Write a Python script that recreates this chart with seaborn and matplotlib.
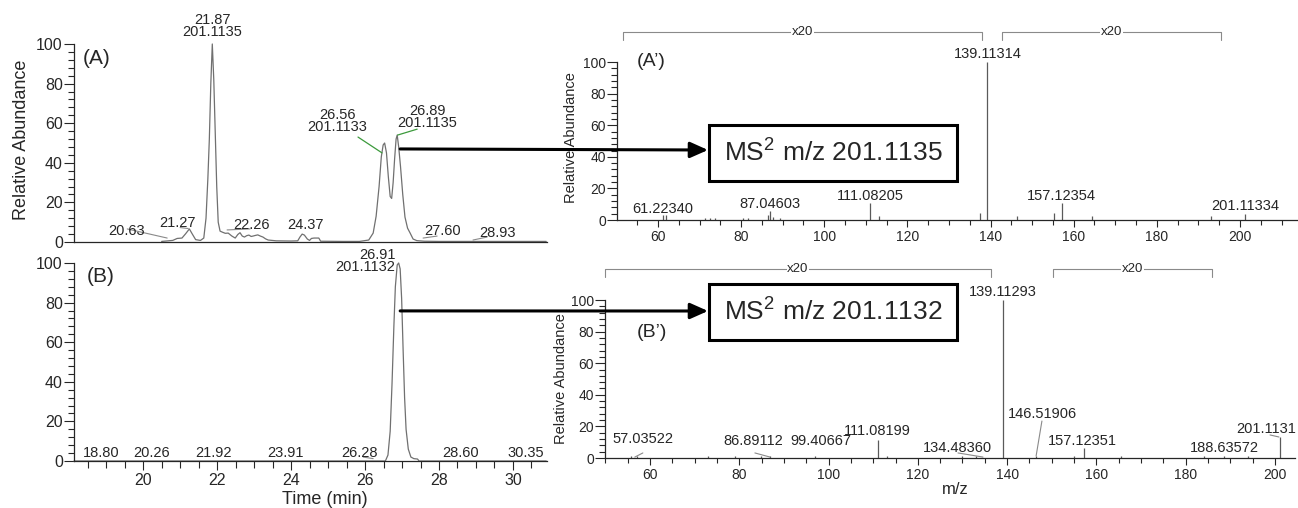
import matplotlib
matplotlib.use("Agg")
import matplotlib.pyplot as plt
import seaborn as sns
import pandas as pd
from matplotlib.patches import Rectangle, ConnectionPatch
from matplotlib.ticker import MultipleLocator

# (A) extracted ion chromatogram, sample
time_a = [20.50, 20.80, 20.92, 21.05, 21.15, 21.25, 21.33, 21.42, 21.55, 21.64,
          21.70, 21.75, 21.79, 21.83, 21.87, 21.91, 21.95, 21.99, 22.03, 22.08,
          22.14, 22.22, 22.30, 22.40, 22.49, 22.56, 22.62, 22.68, 22.74, 22.80,
          22.86, 22.92, 22.97, 23.03, 23.10, 23.17, 23.24, 23.31, 23.38, 23.60,
          24.00, 24.18, 24.24, 24.30, 24.36, 24.44, 24.50, 24.55, 24.62, 24.75,
          24.80, 25.40, 25.85, 26.10, 26.22, 26.30, 26.38, 26.44, 26.49, 26.53,
          26.58, 26.63, 26.68, 26.72, 26.76, 26.80, 26.84, 26.87, 26.91, 26.96,
          27.02, 27.08, 27.15, 27.22, 27.30, 27.40, 27.60, 28.00, 28.80, 30.90]
abund_a = [0.3, 0.8, 1.8, 2.0, 4.2, 6.6, 4.0, 1.2, 0.8, 2.0,
           12, 32, 52, 80, 100, 82, 55, 28, 10, 5.5,
           5.0, 4.4, 4.5, 3.0, 2.0, 3.8, 4.7, 3.0, 2.5, 3.2,
           3.5, 2.8, 3.0, 3.3, 3.6, 3.0, 2.5, 1.6, 1.0, 0.6,
           0.5, 0.6, 2.5, 4.0, 3.5, 1.5, 0.8, 1.8, 2.0, 2.0,
           0.4, 0.3, 0.3, 1.0, 4.5, 13, 28, 43, 49, 50,
           45, 33, 23, 22, 30, 42, 52, 54, 48, 38,
           24, 12.6, 7, 4.5, 1.5, 0.7, 0.4, 0.3, 0.3, 0.3]

# (B) extracted ion chromatogram, standard
time_b = [18.13, 26.55, 26.62, 26.68, 26.73, 26.78, 26.82, 26.87, 26.91, 26.95,
          26.99, 27.03, 27.07, 27.11, 27.17, 27.24, 27.32, 27.42, 27.46, 30.90]
abund_b = [0, 0, 3, 15, 39, 68, 88, 99, 100, 97,
           82, 56, 32, 16, 6, 2, 1.2, 1.0, 0, 0]

# (A') MS2 spectrum of m/z 201.1135
mz_a = [61.22, 62.0, 71.3, 72.5, 73.7, 80.4, 81.7, 86.5, 87.05, 87.7,
        89.4, 111.08, 113.2, 137.4, 139.11, 146.4, 155.2, 157.12, 164.4, 193.0,
        201.11]
int_a = [3.0, 3.0, 1.5, 1.5, 1.5, 1.5, 1.5, 3.0, 5.5, 2.0,
         1.5, 10.8, 2.5, 4.4, 100, 2.5, 4.4, 10.8, 2.5, 2.5,
         3.8]

# (B') MS2 spectrum of m/z 201.1132
mz_b = [55.8, 57.04, 73.0, 79.0, 84.8, 86.9, 97.0, 111.08, 113.0, 130.0,
        133.0, 139.11, 146.52, 155.0, 157.12, 165.5, 184.0, 188.64, 194.0, 201.11]
int_b = [1.0, 1.5, 1.0, 1.0, 1.0, 1.0, 1.0, 11.4, 1.0, 1.0,
         1.0, 100, 1.0, 1.5, 6.3, 1.0, 1.5, 1.5, 1.0, 13.3]

# x20 magnification ranges
zoom_a = [(51.6, 137.9), (142.7, 195.4)]
zoom_b = [(49.9, 136.4), (150.3, 185.9)]

sns.set_style("ticks")
plt.rcParams['font.family'] = ['Liberation Sans', 'DejaVu Sans']
plt.rcParams['mathtext.fontset'] = 'custom'
plt.rcParams['mathtext.rm'] = 'Liberation Sans'
plt.rcParams['mathtext.it'] = 'Liberation Sans:italic'

trace_col = '#707070'
grey = '#8a8a8a'

fig = plt.figure(figsize=(12.98, 5.08), dpi=100)
ax_a = fig.add_axes([0.0570, 0.5236, 0.3644, 0.3898])
ax_b = fig.add_axes([0.0570, 0.0925, 0.3644, 0.3898])
ax_ap = fig.add_axes([0.4753, 0.5669, 0.5247, 0.3110])
ax_bp = fig.add_axes([0.4661, 0.0984, 0.5316, 0.3110])


def style_axes(ax, xmaj, xmin, ysize, xsize, ylen, xlen):
    sns.despine(ax=ax)
    ax.set_ylim(0, 100)
    ax.yaxis.set_major_locator(MultipleLocator(20))
    ax.yaxis.set_minor_locator(MultipleLocator(4))
    ax.xaxis.set_major_locator(MultipleLocator(xmaj))
    ax.xaxis.set_minor_locator(MultipleLocator(xmin))
    ax.tick_params(axis='y', which='major', length=ylen, width=0.8, labelsize=ysize, pad=1)
    ax.tick_params(axis='y', which='minor', length=4, width=0.8)
    ax.tick_params(axis='x', which='major', length=xlen, width=0.8, labelsize=xsize, pad=2)
    ax.tick_params(axis='x', which='minor', length=xlen * 0.75, width=0.8)
    for s in ['left', 'bottom']:
        ax.spines[s].set_linewidth(0.9)
    ax.set_xlabel('')
    ax.set_ylabel('')


# chromatograms
df_a = pd.DataFrame({'time': time_a, 'abund': abund_a})
df_b = pd.DataFrame({'time': time_b, 'abund': abund_b})
sns.lineplot(data=df_a, x='time', y='abund', ax=ax_a, color=trace_col, lw=0.9, clip_on=False)
sns.lineplot(data=df_b, x='time', y='abund', ax=ax_b, color=trace_col, lw=0.9, clip_on=False)
for ax in (ax_a, ax_b):
    style_axes(ax, 2, 0.5, 11.5, 11.5, 7, 6.5)
    ax.set_xlim(18.13, 30.92)
ax_a.tick_params(axis='x', which='both', bottom=False, labelbottom=False)

# peak annotations (A)
lab = dict(fontsize=10.5, ha='center', clip_on=False)
ax_a.text(21.87, 102.5, '21.87\n201.1135', va='bottom', linespacing=0.8, **lab)
ax_a.text(25.25, 54.5, '26.56\n201.1133', va='bottom', linespacing=0.8, **lab)
ax_a.text(27.68, 56.5, '26.89\n201.1135', va='bottom', linespacing=0.8, **lab)
for txt, x, y in [('20.63', 19.54, 3.5), ('21.27', 20.93, 7.6), ('22.26', 22.92, 6.5),
                  ('24.37', 24.38, 6.5), ('27.60', 28.10, 3.5), ('28.93', 29.58, 2.5)]:
    ax_a.text(x, y, txt, va='baseline', **lab)
ax_a.plot([25.81, 26.46], [53, 45], color='#3c9a3c', lw=0.9)
ax_a.plot([26.88, 27.41], [54, 57], color='#3c9a3c', lw=0.9)
for xs, ys in [([19.57, 20.65], [6.6, 2.0]), ([21.0, 21.22], [7.3, 6.8]),
               ([22.27, 22.89], [6.1, 6.6]), ([27.57, 27.95], [2.0, 3.0]),
               ([28.92, 29.30], [1.0, 2.5])]:
    ax_a.plot(xs, ys, color=grey, lw=0.8)

# peak annotations (B)
ax_b.text(26.82, 94.5, '26.91\n201.1132', va='bottom', linespacing=0.8,
          fontsize=10.5, ha='right', clip_on=False)
for txt, x in [('18.80', 18.86), ('20.26', 20.22), ('21.92', 21.89), ('23.91', 23.86),
               ('26.28', 25.84), ('28.60', 28.57), ('30.35', 30.35)]:
    ax_b.text(x, 2.0, txt, va='baseline', **lab)
ax_b.plot([25.95, 26.22], [2.0, 1.2], color=grey, lw=0.8)

ax_a.text(0.019, 0.975, '(A)', transform=ax_a.transAxes, fontsize=15, va='top')
ax_b.text(0.027, 0.98, '(B)', transform=ax_b.transAxes, fontsize=15, va='top')

# spectra
ax_ap.vlines(mz_a, 0, int_a, color='#5a5a5a', lw=0.9)
ax_bp.vlines(mz_b, 0, int_b, color='#5a5a5a', lw=0.9)
style_axes(ax_ap, 20, 5, 10, 10, 7, 5)
style_axes(ax_bp, 20, 5, 10, 10, 7, 5)
ax_ap.set_xlim(50.14, 213.96)
ax_bp.set_xlim(49.92, 204.5)

slab = dict(fontsize=10.5, ha='center', va='baseline', clip_on=False)
for txt, x, y in [('139.11314', 139.3, 102.5), ('157.12354', 157.1, 12.7),
                  ('201.11334', 201.2, 6.3), ('111.08205', 111.2, 12.7),
                  ('87.04603', 86.9, 7.6), ('61.22340', 61.1, 4.4)]:
    ax_ap.text(x, y, txt, **slab)
for txt, x, y in [('139.11293', 139.0, 102.5), ('146.51906', 148.0, 25.3),
                  ('157.12351', 156.9, 8.2), ('188.63572', 188.6, 3.8),
                  ('134.48360', 128.8, 3.8), ('111.08199', 111.0, 14.6),
                  ('99.40667', 98.3, 8.2), ('86.89112', 83.1, 8.2),
                  ('57.03522', 58.4, 9.5)]:
    ax_bp.text(x, y, txt, **slab)
ax_bp.text(191.3, 15.8, '201.1131', fontsize=10.5, ha='left', va='baseline', clip_on=False)
for xs, ys in [([147.8, 146.5], [23.4, 1.3]), ([198.9, 200.9], [14.6, 13.3]),
               ([129.0, 134.6], [3.2, 0.6]), ([83.5, 86.9], [3.2, 0.6]),
               ([58.4, 56.6], [3.2, 0.6])]:
    ax_bp.plot(xs, ys, color=grey, lw=0.8)

ax_ap.text(54.9, 106, '(A\u2019)', fontsize=14, ha='left', va='top', clip_on=False)
ax_bp.text(57.1, 85, '(B\u2019)', fontsize=14, ha='left', va='top', clip_on=False)


def x20_bracket(ax, lo, hi, y, drop=5):
    ax.plot([lo, lo, hi, hi], [y - drop, y, y, y - drop], color=grey, lw=0.8, clip_on=False)
    ax.text((lo + hi) / 2, y, 'x20', fontsize=9.5, ha='center', va='center', clip_on=False,
            bbox=dict(fc='white', ec='none', pad=0.5))


for lo, hi in zoom_a:
    x20_bracket(ax_ap, lo, hi, 119)
for lo, hi in zoom_b:
    x20_bracket(ax_bp, lo, hi, 119.6)

# axis labels
fig.text(22 / 1298, 1 - 140 / 508, 'Relative Abundance', rotation=90, ha='center', va='center', fontsize=13)
fig.text(325 / 1298, 1 - 500 / 508, 'Time (min)', ha='center', va='center', fontsize=13)
fig.text(571 / 1298, 1 - 138 / 508, 'Relative Abundance', rotation=90, ha='center', va='center', fontsize=10.5)
fig.text(561 / 1298, 1 - 379 / 508, 'Relative Abundance', rotation=90, ha='center', va='center', fontsize=10.5)
fig.text(955 / 1298, 1 - 490 / 508, 'm/z', ha='center', va='center', fontsize=12)

# arrows to the MS2 boxes
arrow_kw = dict(arrowstyle='-|>,head_length=0.9,head_width=0.4', mutation_scale=12,
                lw=2.2, color='black', shrinkA=0, shrinkB=0, zorder=6)
con_a = ConnectionPatch(xyA=(26.95, 47), coordsA=ax_a.transData,
                        xyB=(708 / 1298, 1 - 150 / 508), coordsB=fig.transFigure, **arrow_kw)
con_b = ConnectionPatch(xyA=(26.95, 75.8), coordsA=ax_b.transData,
                        xyB=(708 / 1298, 1 - 311 / 508), coordsB=fig.transFigure, **arrow_kw)
fig.add_artist(con_a)
fig.add_artist(con_b)

for y0, label in [(181, r'MS$^{2}$ m/z 201.1135'), (340, r'MS$^{2}$ m/z 201.1132')]:
    fig.add_artist(Rectangle((709 / 1298, 1 - y0 / 508), 248 / 1298, 56 / 508,
                             transform=fig.transFigure, fc='white', ec='black', lw=2.2, zorder=7))
    fig.text(833 / 1298, 1 - (y0 - 28) / 508, label, ha='center', va='center',
             fontsize=19, zorder=8)

fig.savefig('out.png', dpi=100)
